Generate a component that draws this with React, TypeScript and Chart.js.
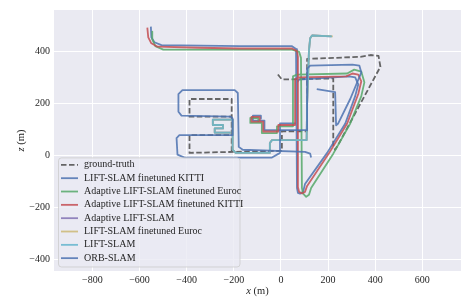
import { useEffect, useRef } from "react";
import { Chart, registerables } from "chart.js";

Chart.register(...registerables);

// ---------- data ----------
const seriesNames = [
  "ground-truth",
  "LIFT-SLAM finetuned KITTI",
  "Adaptive LIFT-SLAM finetuned Euroc",
  "Adaptive LIFT-SLAM finetuned KITTI",
  "Adaptive LIFT-SLAM",
  "LIFT-SLAM finetuned Euroc",
  "LIFT-SLAM",
  "ORB-SLAM",
];
const seriesColors = [
  "rgba(85,85,85,0.9)",
  "rgba(76,114,176,0.85)",
  "rgba(85,168,104,0.85)",
  "rgba(196,78,82,0.85)",
  "rgba(129,114,179,0.85)",
  "rgba(204,185,116,0.85)",
  "rgba(100,181,205,0.85)",
  "rgba(76,114,176,0.85)",
];

const xTicks = [-800, -600, -400, -200, 0, 200, 400, 600];
const yTicks = [-400, -200, 0, 200, 400];
const xMin = -963;
const xMax = 764;
const yMin = -445;
const yMax = 558;
const xTitleVar = "x";
const yTitleVar = "z";
const titleUnit = " (m)";

const gtX = [-13, 4, 222, 222, 230, 247, 422, 414, 380, 337, 111, 111, 4, 4, -388, -388, -209, -209, -388, -388, -209, -209];
const gtY = [310, 291, 295, 36, 21, 47, 340, 382, 385, 378, 370, 92, 92, 17, 9, 77, 77, 148, 148, 216, 216, 9];

const liftKittiX = [-552, -550, -537, -507, -175, 47, 64, 68, 68, 72, 81, 94, 102, 196, 273, 315, 328, 315, 290, 77, 68, 68, -4, -4, -70, -70, -119, -119, -85, -85];
const liftKittiY = [494, 453, 434, 423, 419, 419, 408, 385, -126, -145, -148, -141, -111, 9, 122, 227, 272, 299, 303, 291, 280, 122, 122, 96, 96, 133, 133, 152, 152, 141];

const adaptEurocX = [-546, -546, -533, -499, -345, -175, 47, 77, 85, 89, 94, 107, 119, 128, 222, 294, 341, 354, 341, 311, 281, 68, 51, 51, -17, -17, -81, -81, -130, -130, -96, -96];
const adaptEurocY = [475, 445, 419, 406, 406, 406, 406, 397, 374, -126, -148, -160, -152, -126, 6, 122, 227, 280, 321, 329, 314, 310, 303, 111, 111, 85, 85, 124, 124, 143, 143, 130];

const adaptKittiX = [-567, -563, -550, -524, -345, -175, 47, 68, 72, 72, 77, 89, 102, 111, 205, 281, 328, 341, 328, 303, 277, 72, 60, 60, -11, -11, -75, -75, -124, -125, -90, -90];
const adaptKittiY = [490, 453, 430, 417, 413, 410, 410, 400, 378, -122, -141, -147, -141, -118, 9, 122, 235, 284, 310, 314, 303, 299, 291, 116, 116, 91, 91, 129, 129, 147, 147, 135];

const adaptX = [214, 132, 124, 119, 111, 109, -38, -47, -47, -192, -205, -205, -289, -289, -246, -246, -281, -281, -213];
const adaptY = [457, 460, 449, 404, 197, 58, 58, 47, 9, 9, 21, 137, 137, 116, 116, 103, 103, 87, 87];

const liftEurocX = [220, 132, 124, 119, 111, 109, -38, -47, -47, -192, -205, -205, -289, -289, -246, -246, -281, -281, -213];
const liftEurocY = [457, 460, 449, 404, 197, 58, 58, 47, 9, 9, 21, 137, 137, 116, 116, 103, 103, 87, 87];

const liftX = [216, 132, 124, 119, 111, 109, -38, -47, -47, -192, -205, -205, -289, -289, -246, -246, -281, -281, -213];
const liftY = [457, 460, 449, 404, 197, 58, 58, 47, 9, 9, 21, 137, 137, 116, 116, 103, 103, 87, 87];

const orbX = [152, 230, 234, 243, 294, 341, 333, 303, 124, 111, 111, -4, -4, -38, -409, -439, -443, -431, -205, -205, -213, -422, -435, -435, -418, -196, -183, -179, -162, 102, 124, 128];
const orbY = [254, 242, 115, 122, 216, 318, 344, 348, 344, 333, 96, 96, 9, -9, -9, 2, 66, 77, 77, 141, 148, 152, 167, 235, 250, 250, 239, 32, 21, 13, 6, -9];

const seriesX = [gtX, liftKittiX, adaptEurocX, adaptKittiX, adaptX, liftEurocX, liftX, orbX];
const seriesY = [gtY, liftKittiY, adaptEurocY, adaptKittiY, adaptY, liftEurocY, liftY, orbY];

// ---------- styling ----------
const TEXT = "#262626";
const FONT = '"Liberation Serif", "Times New Roman", serif';
Chart.defaults.font.family = FONT;
Chart.defaults.font.size = 10;
Chart.defaults.color = TEXT;

const fmt = (v: number) => (v < 0 ? "\u2212" + Math.abs(v) : String(v));

const bgPlugin = {
  id: "plotBg",
  beforeDraw(chart: any) {
    const { ctx, chartArea } = chart;
    ctx.save();
    ctx.fillStyle = "#EAEAF2";
    ctx.fillRect(chartArea.left, chartArea.top, chartArea.right - chartArea.left, chartArea.bottom - chartArea.top);
    ctx.restore();
  },
};

function drawMixedTitle(ctx: CanvasRenderingContext2D, v: string, unit: string, cx: number, cy: number, rotate: boolean) {
  ctx.save();
  ctx.translate(cx, cy);
  if (rotate) ctx.rotate(-Math.PI / 2);
  ctx.textBaseline = "middle";
  ctx.textAlign = "left";
  ctx.fillStyle = TEXT;
  ctx.font = "italic 10.5px " + FONT;
  const w1 = ctx.measureText(v).width;
  ctx.font = "10.5px " + FONT;
  const w2 = ctx.measureText(unit).width;
  const start = -(w1 + w2) / 2;
  ctx.font = "italic 10.5px " + FONT;
  ctx.fillText(v, start, 0);
  ctx.font = "10.5px " + FONT;
  ctx.fillText(unit, start + w1, 0);
  ctx.restore();
}

const titlesPlugin = {
  id: "mixedTitles",
  afterDraw(chart: any) {
    const { ctx, chartArea } = chart;
    drawMixedTitle(ctx, xTitleVar, titleUnit, (chartArea.left + chartArea.right) / 2, chartArea.bottom + 20, false);
    drawMixedTitle(ctx, yTitleVar, titleUnit, 21, (chartArea.top + chartArea.bottom) / 2, true);
  },
};

const legendPlugin = {
  id: "insideLegend",
  afterDraw(chart: any) {
    const { ctx, chartArea } = chart;
    const left = chartArea.left + 4.5;
    const bottom = chartArea.bottom - 4;
    const rowH = 13.33;
    const h = seriesNames.length * rowH + 2.5;
    const top = bottom - h;
    const w = 181.5;
    ctx.save();
    ctx.beginPath();
    const r = 3;
    ctx.moveTo(left + r, top);
    ctx.lineTo(left + w - r, top);
    ctx.quadraticCurveTo(left + w, top, left + w, top + r);
    ctx.lineTo(left + w, bottom - r);
    ctx.quadraticCurveTo(left + w, bottom, left + w - r, bottom);
    ctx.lineTo(left + r, bottom);
    ctx.quadraticCurveTo(left, bottom, left, bottom - r);
    ctx.lineTo(left, top + r);
    ctx.quadraticCurveTo(left, top, left + r, top);
    ctx.closePath();
    ctx.fillStyle = "rgba(234,234,242,0.8)";
    ctx.fill();
    ctx.strokeStyle = "rgba(204,204,204,0.8)";
    ctx.lineWidth = 1;
    ctx.stroke();
    ctx.font = "10px " + FONT;
    ctx.textBaseline = "middle";
    ctx.textAlign = "left";
    seriesNames.forEach((name, i) => {
      const y = top + 7 + i * rowH;
      ctx.strokeStyle = seriesColors[i];
      ctx.lineWidth = 1.8;
      ctx.setLineDash(i === 0 ? [5.5, 2.5] : []);
      ctx.beginPath();
      ctx.moveTo(left + 2.5, y);
      ctx.lineTo(left + 19.5, y);
      ctx.stroke();
      ctx.setLineDash([]);
      ctx.fillStyle = TEXT;
      ctx.fillText(name, left + 25.5, y);
    });
    ctx.restore();
  },
};

export default function App() {
  const ref = useRef<HTMLCanvasElement>(null);
  useEffect(() => {
    const datasets = seriesNames.map((name, i) => ({
      label: name,
      data: seriesX[i].map((x, j) => ({ x, y: seriesY[i][j] })),
      showLine: true,
      borderColor: seriesColors[i],
      backgroundColor: seriesColors[i],
      borderWidth: 1.8,
      borderDash: i === 0 ? [5.5, 2.5] : [],
      borderJoinStyle: "round" as const,
      borderCapStyle: "butt" as const,
      pointRadius: 0,
      fill: false,
      tension: 0,
      order: 20 - i,
    }));
    const chart = new Chart(ref.current as HTMLCanvasElement, {
      type: "scatter",
      data: { datasets },
      options: {
        responsive: false,
        animation: false,
        events: [],
        layout: { padding: { left: 0, right: 0, top: 4, bottom: 0 } },
        plugins: { legend: { display: false }, tooltip: { enabled: false } },
        scales: {
          x: {
            type: "linear",
            min: xMin,
            max: xMax,
            afterBuildTicks: (s: any) => {
              s.ticks = xTicks.map((v) => ({ value: v }));
            },
            afterFit: (s: any) => {
              s.height = 32;
            },
            ticks: { color: TEXT, padding: 3, maxRotation: 0, autoSkip: false, callback: (v: any) => fmt(Number(v)) },
            grid: { color: "#ffffff", lineWidth: 1, drawTicks: false },
            border: { display: false },
            title: { display: false },
          },
          y: {
            type: "linear",
            min: yMin,
            max: yMax,
            afterBuildTicks: (s: any) => {
              s.ticks = yTicks.map((v) => ({ value: v }));
            },
            afterFit: (s: any) => {
              s.width = 54;
            },
            ticks: { color: TEXT, padding: 4, autoSkip: false, callback: (v: any) => fmt(Number(v)) },
            grid: { color: "#ffffff", lineWidth: 1, drawTicks: false },
            border: { display: false },
            title: { display: false },
          },
        },
      },
      plugins: [bgPlugin, legendPlugin, titlesPlugin],
    } as any);
    return () => chart.destroy();
  }, []);
  return (
    <div style={{ position: "fixed", left: 0, top: 0, width: 461, height: 303, background: "#ffffff" }}>
      <canvas ref={ref} width={461} height={303} style={{ display: "block" }} />
    </div>
  );
}
